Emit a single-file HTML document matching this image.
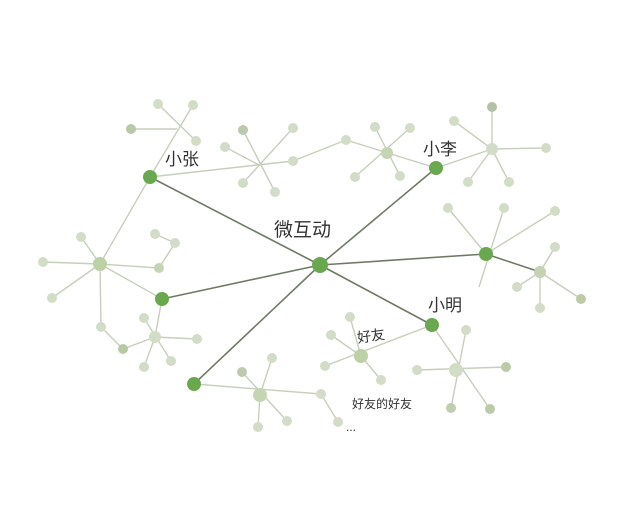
<!DOCTYPE html>
<html><head><meta charset="utf-8"><style>
html,body{margin:0;padding:0;background:#fff;width:640px;height:515px;overflow:hidden}
text{font-family:"Liberation Sans","Noto Sans CJK SC",sans-serif;fill:#333}
</style></head><body>
<svg width="640" height="515" viewBox="0 0 640 515" xmlns="http://www.w3.org/2000/svg">
<g stroke="#c6cfbb" stroke-width="1.4" fill="none">
<!-- A -->
<line x1="150" y1="177" x2="193" y2="105"/><line x1="158" y1="104" x2="196" y2="141"/><line x1="131" y1="129" x2="177" y2="129"/>
<!-- B -->
<line x1="150" y1="177" x2="293" y2="161"/><line x1="293" y1="161" x2="346" y2="140"/>
<line x1="243" y1="130" x2="275" y2="192"/><line x1="293" y1="128" x2="243" y2="183"/><line x1="225" y1="147" x2="259" y2="165"/>
<!-- hub 387 -->
<line x1="346" y1="140" x2="436" y2="168"/><line x1="375" y1="127" x2="400" y2="176"/><line x1="410" y1="128" x2="355" y2="177"/>
<!-- C -->
<line x1="436" y1="168" x2="492" y2="149"/><line x1="492" y1="107" x2="492" y2="149"/><line x1="454" y1="121" x2="492" y2="149"/><line x1="546" y1="148" x2="492" y2="149"/><line x1="468" y1="182" x2="492" y2="149"/><line x1="509" y1="182" x2="492" y2="149"/>
<!-- D -->
<line x1="448" y1="208" x2="486" y2="254"/><line x1="504" y1="208" x2="479" y2="287"/><line x1="555" y1="211" x2="486" y2="254"/>
<line x1="555" y1="247" x2="540" y2="272"/><line x1="517" y1="287" x2="540" y2="272"/><line x1="540" y1="308" x2="540" y2="272"/><line x1="581" y1="299" x2="540" y2="272"/>
<!-- E -->
<line x1="150" y1="177" x2="100" y2="264"/><line x1="81" y1="237" x2="100" y2="264"/><line x1="43" y1="262" x2="100" y2="264"/><line x1="52" y1="298" x2="100" y2="264"/><line x1="159" y1="268" x2="100" y2="264"/><line x1="162" y1="299" x2="100" y2="264"/>
<polyline points="100,264 101,327 123,349 155,337"/><polyline points="159,268 175,243 155,234"/>
<!-- F -->
<line x1="162" y1="299" x2="155" y2="337"/><line x1="144" y1="318" x2="171" y2="361"/><line x1="197" y1="339" x2="155" y2="337"/><line x1="144" y1="367" x2="155" y2="337"/>
<!-- G -->
<line x1="194" y1="384" x2="321" y2="394"/><polyline points="321,394 338,422"/>
<line x1="242" y1="372" x2="287" y2="421"/><line x1="272" y1="358" x2="260" y2="395"/><line x1="258" y1="427" x2="260" y2="395"/>
<!-- H -->
<line x1="432" y1="325" x2="325" y2="366"/><line x1="350" y1="317" x2="361" y2="356"/><line x1="331" y1="335" x2="361" y2="356"/><line x1="381" y1="380" x2="361" y2="356"/>
<!-- I -->
<line x1="432" y1="325" x2="490" y2="409"/><line x1="466" y1="330" x2="451" y2="408"/><line x1="417" y1="370" x2="506" y2="367"/>
</g>
<g stroke="#6f7a66" stroke-width="1.6">
<line x1="320" y1="265" x2="150" y2="177"/><line x1="320" y1="265" x2="436" y2="168"/><line x1="320" y1="265" x2="486" y2="254"/><line x1="320" y1="265" x2="432" y2="325"/><line x1="320" y1="265" x2="162" y2="299"/><line x1="320" y1="265" x2="194" y2="384"/><line x1="486" y1="254" x2="540" y2="272"/>
</g>
<g fill="#d3dcc6">
<circle cx="158" cy="104" r="5"/><circle cx="193" cy="105" r="5"/><circle cx="131" cy="129" r="5" fill="#b9c8a8"/><circle cx="196" cy="141" r="5"/>
<circle cx="243" cy="130" r="5" fill="#bcc7b0"/><circle cx="293" cy="128" r="5"/><circle cx="225" cy="147" r="5"/><circle cx="293" cy="161" r="5"/><circle cx="243" cy="183" r="5"/><circle cx="275" cy="192" r="5"/>
<circle cx="346" cy="140" r="5"/><circle cx="387" cy="153" r="6" fill="#c5d5b3"/><circle cx="375" cy="127" r="5"/><circle cx="410" cy="128" r="5"/><circle cx="355" cy="177" r="5"/><circle cx="400" cy="176" r="5"/>
<circle cx="492" cy="149" r="6"/><circle cx="492" cy="107" r="5" fill="#b3c2a6"/><circle cx="454" cy="121" r="5"/><circle cx="546" cy="148" r="5"/><circle cx="468" cy="182" r="5"/><circle cx="509" cy="182" r="5"/>
<circle cx="448" cy="208" r="5"/><circle cx="504" cy="208" r="5"/><circle cx="555" cy="211" r="5"/>
<circle cx="540" cy="272" r="6" fill="#c5d2b3"/><circle cx="555" cy="247" r="5"/><circle cx="517" cy="287" r="5"/><circle cx="540" cy="308" r="5"/><circle cx="581" cy="299" r="5" fill="#bccaa8"/>
<circle cx="100" cy="264" r="7" fill="#bcd1a6"/><circle cx="81" cy="237" r="5"/><circle cx="43" cy="262" r="5"/><circle cx="52" cy="298" r="5"/><circle cx="159" cy="268" r="5" fill="#c5d4b5"/><circle cx="101" cy="327" r="5"/><circle cx="175" cy="243" r="5"/><circle cx="155" cy="234" r="5"/>
<circle cx="123" cy="349" r="5" fill="#b9c9a8"/><circle cx="155" cy="337" r="6"/><circle cx="144" cy="318" r="5"/><circle cx="197" cy="339" r="5"/><circle cx="144" cy="367" r="5"/><circle cx="171" cy="361" r="5"/>
<circle cx="260" cy="395" r="7" fill="#c5d5b3"/><circle cx="242" cy="372" r="5" fill="#bccaae"/><circle cx="272" cy="358" r="5"/><circle cx="258" cy="427" r="5"/><circle cx="287" cy="421" r="5"/><circle cx="321" cy="394" r="5"/><circle cx="338" cy="422" r="5"/>
<circle cx="361" cy="356" r="7" fill="#bdd0a6"/><circle cx="350" cy="317" r="5"/><circle cx="331" cy="335" r="5"/><circle cx="325" cy="366" r="5"/><circle cx="381" cy="380" r="5"/>
<circle cx="456" cy="370" r="7"/><circle cx="466" cy="330" r="5"/><circle cx="417" cy="370" r="5"/><circle cx="506" cy="367" r="5" fill="#bccaa8"/><circle cx="451" cy="408" r="5" fill="#c0cdb0"/><circle cx="490" cy="409" r="5" fill="#bccaa8"/>
</g>
<g fill="#6aa84f">
<circle cx="320" cy="265" r="8"/><circle cx="150" cy="177" r="7"/><circle cx="436" cy="168" r="7"/><circle cx="486" cy="254" r="7"/><circle cx="432" cy="325" r="7"/><circle cx="162" cy="299" r="7"/><circle cx="194" cy="384" r="7"/>
</g>
<text x="165" y="165" font-size="17">小张</text>
<text x="274" y="236" font-size="19">微互动</text>
<text x="423" y="155" font-size="17">小李</text>
<text x="428" y="311" font-size="17">小明</text>
<text x="357" y="341" font-size="14" transform="rotate(-8 370 336)">好友</text>
<text x="352" y="408" font-size="12">好友的好友</text>
<text x="346" y="431" font-size="12">...</text>
</svg>
</body></html>
